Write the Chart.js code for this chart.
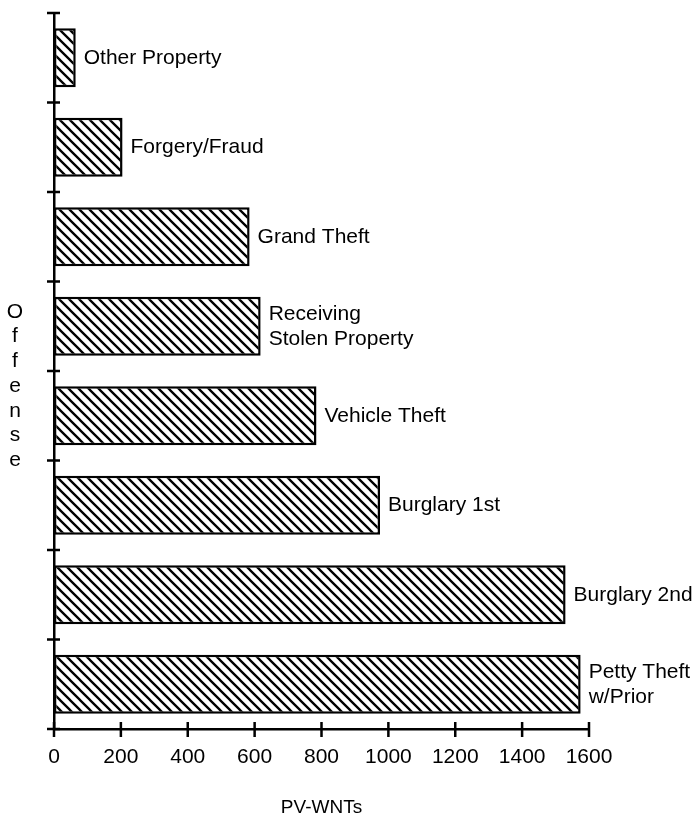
<!DOCTYPE html>
<html>
<head>
<meta charset="utf-8">
<script src="https://cdn.jsdelivr.net/npm/chart.js@4/dist/chart.umd.min.js"></script>
<style>
  html, body { margin: 0; padding: 0; background: #fff; }
  canvas { display: block; }
</style>
</head>
<body>
<canvas id="offenseChart" width="698" height="813"></canvas>
<script>
// categories top to bottom, as in the figure
const offenses = ['Other Property', 'Forgery/Fraud', 'Grand Theft', 'Receiving Stolen Property',
  'Vehicle Theft', 'Burglary 1st', 'Burglary 2nd', 'Petty Theft w/Prior'];
// how each name is written beside its bar
const barLabels = [['Other Property'], ['Forgery/Fraud'], ['Grand Theft'], ['Receiving', 'Stolen Property'],
  ['Vehicle Theft'], ['Burglary 1st'], ['Burglary 2nd'], ['Petty Theft', 'w/Prior']];
const pvWnts = [65, 205, 585, 618, 785, 975, 1530, 1575];
const xTicks = [0, 200, 400, 600, 800, 1000, 1200, 1400, 1600];
const yTitle = ['O', 'f', 'f', 'e', 'n', 's', 'e'];

const FONT = '"Liberation Sans", Arial, Helvetica, sans-serif';

// diagonal hatch fill
function makeHatch() {
  const c = document.createElement('canvas');
  c.width = 10; c.height = 10;
  const p = c.getContext('2d');
  p.fillStyle = '#fff';
  p.fillRect(0, 0, 10, 10);
  p.strokeStyle = '#000';
  p.lineWidth = 2.3;
  p.beginPath();
  p.moveTo(-5, -5); p.lineTo(15, 15);
  p.moveTo(-5, 5); p.lineTo(5, 15);
  p.moveTo(5, -5); p.lineTo(15, 5);
  p.stroke();
  return p.createPattern(c, 'repeat');
}

// ticks that cross the axis lines, plus the labels beside the bars and the stacked "Offense"
const decorations = {
  id: 'decorations',
  afterDatasetsDraw(chart) {
    const ctx = chart.ctx;
    const meta = chart.getDatasetMeta(0);
    ctx.save();
    ctx.fillStyle = '#000';
    ctx.font = '21px ' + FONT;
    ctx.textAlign = 'left';
    ctx.textBaseline = 'middle';
    meta.data.forEach((bar, i) => {
      const lines = barLabels[i];
      const lh = 25;
      const y0 = bar.y - (lines.length - 1) * lh / 2;
      lines.forEach((t, k) => ctx.fillText(t, bar.x + 8, y0 + k * lh));
    });
    ctx.restore();
  },
  afterDraw(chart) {
    const ctx = chart.ctx;
    const area = chart.chartArea;
    const xs = chart.scales.x;
    const n = offenses.length;
    ctx.save();
    ctx.strokeStyle = '#000';
    ctx.lineWidth = 2.5;
    ctx.beginPath();
    // category boundaries on the y axis
    for (let i = 0; i <= n; i++) {
      const y = area.top + i * (area.bottom - area.top) / n;
      ctx.moveTo(area.left - 7, y);
      ctx.lineTo(area.left + 6, y);
    }
    // value ticks on the x axis
    xTicks.forEach(v => {
      const x = xs.getPixelForValue(v);
      ctx.moveTo(x, area.bottom - 7);
      ctx.lineTo(x, area.bottom + 8);
    });
    ctx.stroke();

    ctx.fillStyle = '#000';
    ctx.font = '21px ' + FONT;
    ctx.textAlign = 'center';
    ctx.textBaseline = 'middle';
    yTitle.forEach((ch, i) => ctx.fillText(ch, 15, 312 + i * 24.7));
    ctx.restore();
  }
};

const ctx = document.getElementById('offenseChart').getContext('2d');

const offenseChart = new Chart(ctx, {
  type: 'bar',
  data: {
    labels: offenses,
    datasets: [{
      label: 'PV-WNTs',
      data: pvWnts,
      backgroundColor: makeHatch(),
      borderColor: '#000',
      borderWidth: 2.5,
      borderSkipped: false,
      barPercentage: 0.66,
      categoryPercentage: 1
    }]
  },
  options: {
    indexAxis: 'y',
    responsive: false,
    animation: false,
    layout: { padding: { top: 13, right: 109, left: 0, bottom: 0 } },
    plugins: {
      legend: { display: false },
      tooltip: { enabled: false }
    },
    scales: {
      x: {
        type: 'linear',
        min: 0,
        max: 1600,
        afterFit(scale) { scale.height = 84; },
        afterBuildTicks(scale) { scale.ticks = xTicks.map(v => ({ value: v })); },
        grid: { display: false, drawTicks: false },
        border: { display: true, color: '#000', width: 2.5 },
        ticks: {
          color: '#000',
          padding: 16,
          maxRotation: 0,
          font: { family: FONT, size: 21 },
          callback: v => String(v)
        },
        title: {
          display: true,
          text: 'PV-WNTs',
          color: '#000',
          padding: { top: 0, bottom: 0 },
          font: { family: FONT, size: 19, lineHeight: 0.6 }
        }
      },
      y: {
        type: 'category',
        afterFit(scale) { scale.width = 54; },
        grid: { display: false, drawTicks: false },
        border: { display: true, color: '#000', width: 2.5 },
        ticks: { display: false }
      }
    }
  },
  plugins: [decorations]
});
</script>
</body>
</html>
